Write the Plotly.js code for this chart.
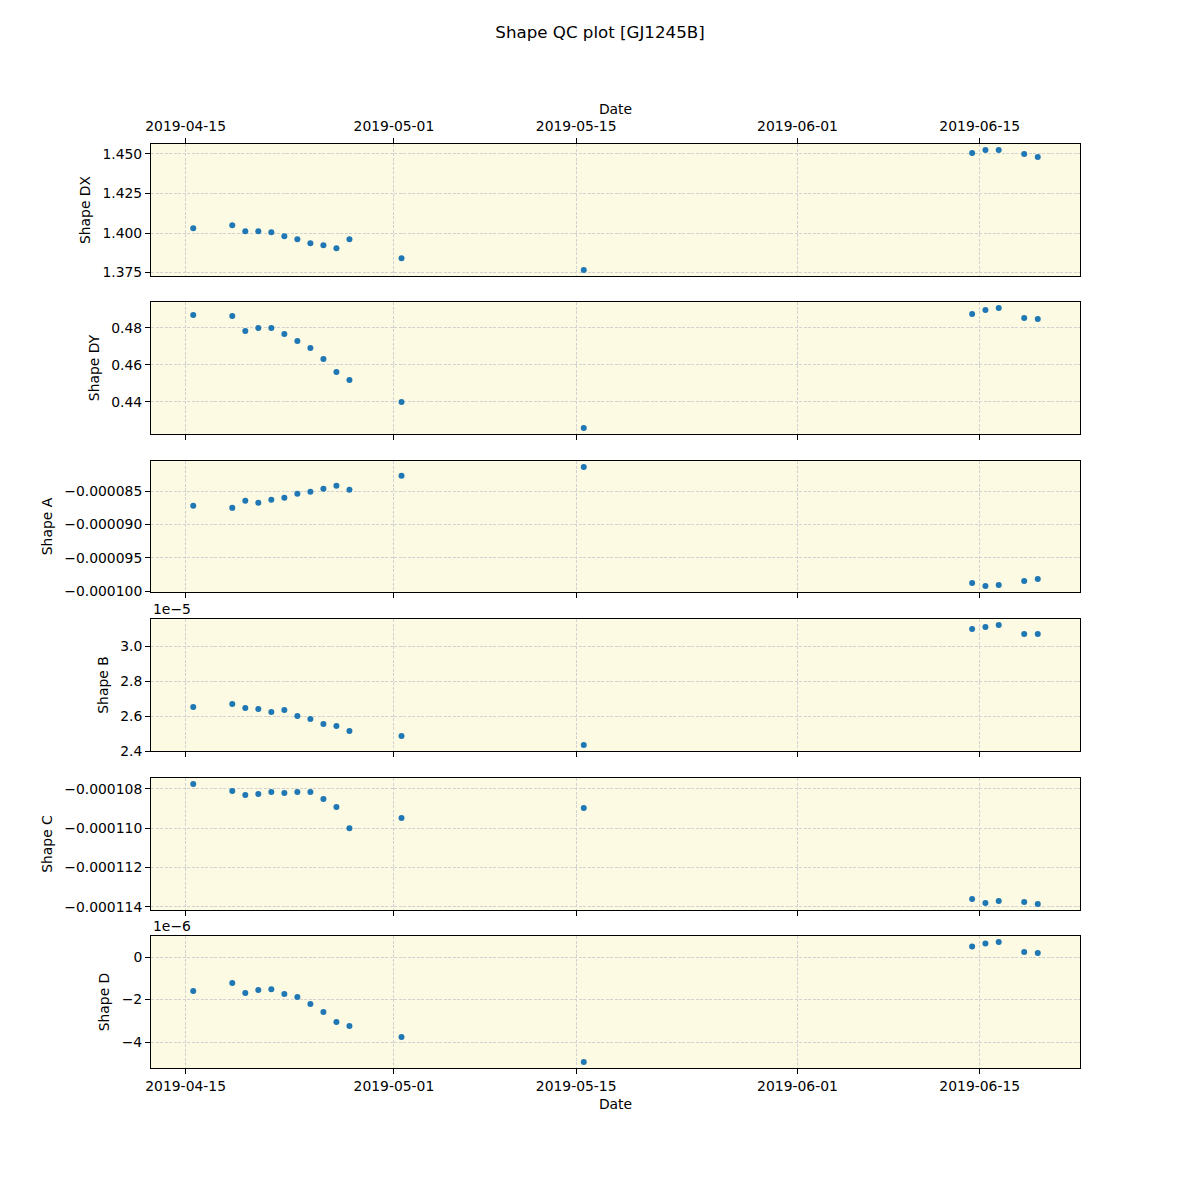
<!DOCTYPE html>
<html>
<head>
<meta charset="utf-8">
<script src="https://cdn.plot.ly/plotly-3.0.1.min.js"></script>
<style>
  body {margin: 0; background: #fff;}
  #qc-plot {width: 1200px; height: 1200px;}
</style>
</head>
<body>
<div id="qc-plot"></div>
<script>
const dates = [
  '2019-04-15 14:00', '2019-04-18 14:00', '2019-04-19 14:00', '2019-04-20 14:00',
  '2019-04-21 14:00', '2019-04-22 14:00', '2019-04-23 14:00', '2019-04-24 14:00',
  '2019-04-25 14:00', '2019-04-26 14:00', '2019-04-27 14:00', '2019-05-01 14:00',
  '2019-05-15 14:00', '2019-06-14 10:00', '2019-06-15 10:30', '2019-06-16 11:00',
  '2019-06-18 10:00', '2019-06-19 11:00'
]
const shapeDX = [1.4030, 1.4049, 1.4011, 1.4011, 1.4004, 1.3979, 1.3960, 1.3935, 1.3922,
  1.3903, 1.3960, 1.3840, 1.3766, 1.4506, 1.4525, 1.4525, 1.4500, 1.4481]
const shapeDY = [0.4870, 0.4865, 0.4784, 0.4800, 0.4800, 0.4768, 0.4730, 0.4692, 0.4632,
  0.4562, 0.4519, 0.4400, 0.4259, 0.4876, 0.4897, 0.4908, 0.4854, 0.4849]
const shapeA = [-8.720e-5, -8.750e-5, -8.643e-5, -8.672e-5, -8.628e-5, -8.598e-5, -8.539e-5,
  -8.509e-5, -8.464e-5, -8.420e-5, -8.480e-5, -8.271e-5, -8.138e-5, -9.875e-5, -9.920e-5,
  -9.905e-5, -9.845e-5, -9.816e-5]
const shapeB = [2.6514e-5, 2.6686e-5, 2.6457e-5, 2.6400e-5, 2.6229e-5, 2.6343e-5, 2.6000e-5,
  2.5829e-5, 2.5543e-5, 2.5429e-5, 2.5143e-5, 2.4857e-5, 2.4343e-5, 3.0970e-5, 3.1086e-5,
  3.1200e-5, 3.0686e-5, 3.0686e-5]
const shapeC = [-1.0776e-4, -1.0812e-4, -1.0832e-4, -1.0827e-4, -1.0817e-4, -1.0822e-4,
  -1.0817e-4, -1.0817e-4, -1.0852e-4, -1.0893e-4, -1.1000e-4, -1.0949e-4, -1.0898e-4,
  -1.1360e-4, -1.1380e-4, -1.1370e-4, -1.1375e-4, -1.1385e-4]
const shapeD = [-1.60e-6, -1.22e-6, -1.69e-6, -1.55e-6, -1.51e-6, -1.74e-6, -1.88e-6, -2.21e-6,
  -2.59e-6, -3.06e-6, -3.25e-6, -3.76e-6, -4.94e-6, 0.50e-6, 0.64e-6, 0.71e-6, 0.24e-6, 0.19e-6]

const dateTicks = ['2019-04-15', '2019-05-01', '2019-05-15', '2019-06-01', '2019-06-15']
const panelNames = ['Shape DX', 'Shape DY', 'Shape A', 'Shape B', 'Shape C', 'Shape D']
const bTicks = [2.4e-5, 2.6e-5, 2.8e-5, 3.0e-5]
const bTickText = ['2.4', '2.6', '2.8', '3.0']
const dTicks = [-4e-6, -2e-6, 0]
const dTickText = ['\u22124', '\u22122', '0']

const FONT = 'DejaVu Sans, sans-serif'
const FS = 13.9
const DOT = '#1f77b4'
const PANEL_BG = '#fcfae2'
const GRID = '#d2d2d2'

// pixel boxes of the panels (top, bottom), converted to paper domains below
const PLOT_TOP = 144
const PLOT_BOTTOM = 1068
const boxes = [[144, 276], [302, 434], [461, 592], [619, 751], [778, 910], [936, 1068]]
const plotH = PLOT_BOTTOM - PLOT_TOP
const domainOf = ([t, b]) => [(PLOT_BOTTOM - b) / plotH, (PLOT_BOTTOM - t) / plotH]

// matplotlib style 5% auto margin
const padded = (vals) => {
  const lo = Math.min(...vals)
  const hi = Math.max(...vals)
  const pad = (hi - lo) * 0.05
  return [lo - pad, hi + pad]
}

const ms = dates.map((d) => new Date(d.replace(' ', 'T') + 'Z').getTime())
const xr = padded(ms).map((t) => new Date(t).toISOString().replace('T', ' ').slice(0, 19))

const series = [shapeDX, shapeDY, shapeA, shapeB, shapeC, shapeD]

const data = series.map((ys, i) => ({
  x: dates,
  y: ys,
  xaxis: i === 0 ? 'x' : `x${i + 1}`,
  yaxis: i === 0 ? 'y' : `y${i + 1}`,
  type: 'scatter',
  mode: 'markers',
  marker: {color: DOT, size: 6},
  hoverinfo: 'none',
  showlegend: false
}))

const yFormats = [
  {dtick: 0.025, tickformat: '.3f'},
  {dtick: 0.02, tickformat: '.2f'},
  {dtick: 5e-6, tickformat: '.6f'},
  {tickmode: 'array', tickvals: bTicks, ticktext: bTickText},
  {dtick: 2e-6, tickformat: '.6f'},
  {tickmode: 'array', tickvals: dTicks, ticktext: dTickText}
]

const layout = {
  width: 1200,
  height: 1200,
  margin: {l: 151, r: 120, t: PLOT_TOP, b: 1200 - PLOT_BOTTOM},
  paper_bgcolor: '#ffffff',
  plot_bgcolor: PANEL_BG,
  font: {family: FONT, size: FS, color: '#000'},
  title: {
    text: 'Shape QC plot [GJ1245B]',
    font: {family: FONT, size: 16.67, color: '#000'},
    xref: 'container',
    x: 0.5,
    yref: 'container',
    y: 1 - 32 / 1200,
    yanchor: 'middle'
  },
  annotations: [
    {text: '1e\u22125', xref: 'paper', yref: 'paper', x: 0, y: domainOf(boxes[3])[1],
      xanchor: 'left', yanchor: 'bottom', showarrow: false, font: {family: FONT, size: FS}},
    {text: '1e\u22126', xref: 'paper', yref: 'paper', x: 0, y: domainOf(boxes[5])[1],
      xanchor: 'left', yanchor: 'bottom', showarrow: false, font: {family: FONT, size: FS}}
  ]
}

series.forEach((ys, i) => {
  const xKey = i === 0 ? 'xaxis' : `xaxis${i + 1}`
  const yKey = i === 0 ? 'yaxis' : `yaxis${i + 1}`
  const isTop = i === 0
  const isBottom = i === series.length - 1
  layout[xKey] = {
    type: 'date',
    anchor: i === 0 ? 'y' : `y${i + 1}`,
    domain: [0, 1],
    range: xr,
    matches: i === 0 ? undefined : 'x',
    side: isTop ? 'top' : 'bottom',
    tickmode: 'array',
    tickvals: dateTicks,
    tickformat: '%Y-%m-%d',
    showticklabels: isTop || isBottom,
    ticks: 'outside',
    ticklen: 5,
    tickwidth: 1,
    tickcolor: '#000',
    ticklabelstandoff: isTop ? 1 : 0,
    tickfont: {family: FONT, size: FS},
    showline: true,
    mirror: true,
    linecolor: '#000',
    linewidth: 1,
    showgrid: true,
    gridcolor: GRID,
    griddash: '3px,1.5px',
    gridwidth: 1,
    zeroline: false,
    title: isTop || isBottom
      ? {text: 'Date', font: {family: FONT, size: FS}, standoff: isTop ? 0 : 6}
      : {text: ''}
  }
  layout[yKey] = {
    anchor: i === 0 ? 'x' : `x${i + 1}`,
    domain: domainOf(boxes[i]),
    range: padded(ys),
    ...yFormats[i],
    ticks: 'outside',
    ticklen: 5,
    tickwidth: 1,
    tickcolor: '#000',
    tickfont: {family: FONT, size: FS},
    showline: true,
    mirror: true,
    linecolor: '#000',
    linewidth: 1,
    showgrid: true,
    gridcolor: GRID,
    griddash: '3px,1.5px',
    gridwidth: 1,
    zeroline: false,
    title: {text: panelNames[i], font: {family: FONT, size: FS}, standoff: 8}
  }
})

Plotly.newPlot('qc-plot', data, layout, {displayModeBar: false, staticPlot: true})
</script>
</body>
</html>
